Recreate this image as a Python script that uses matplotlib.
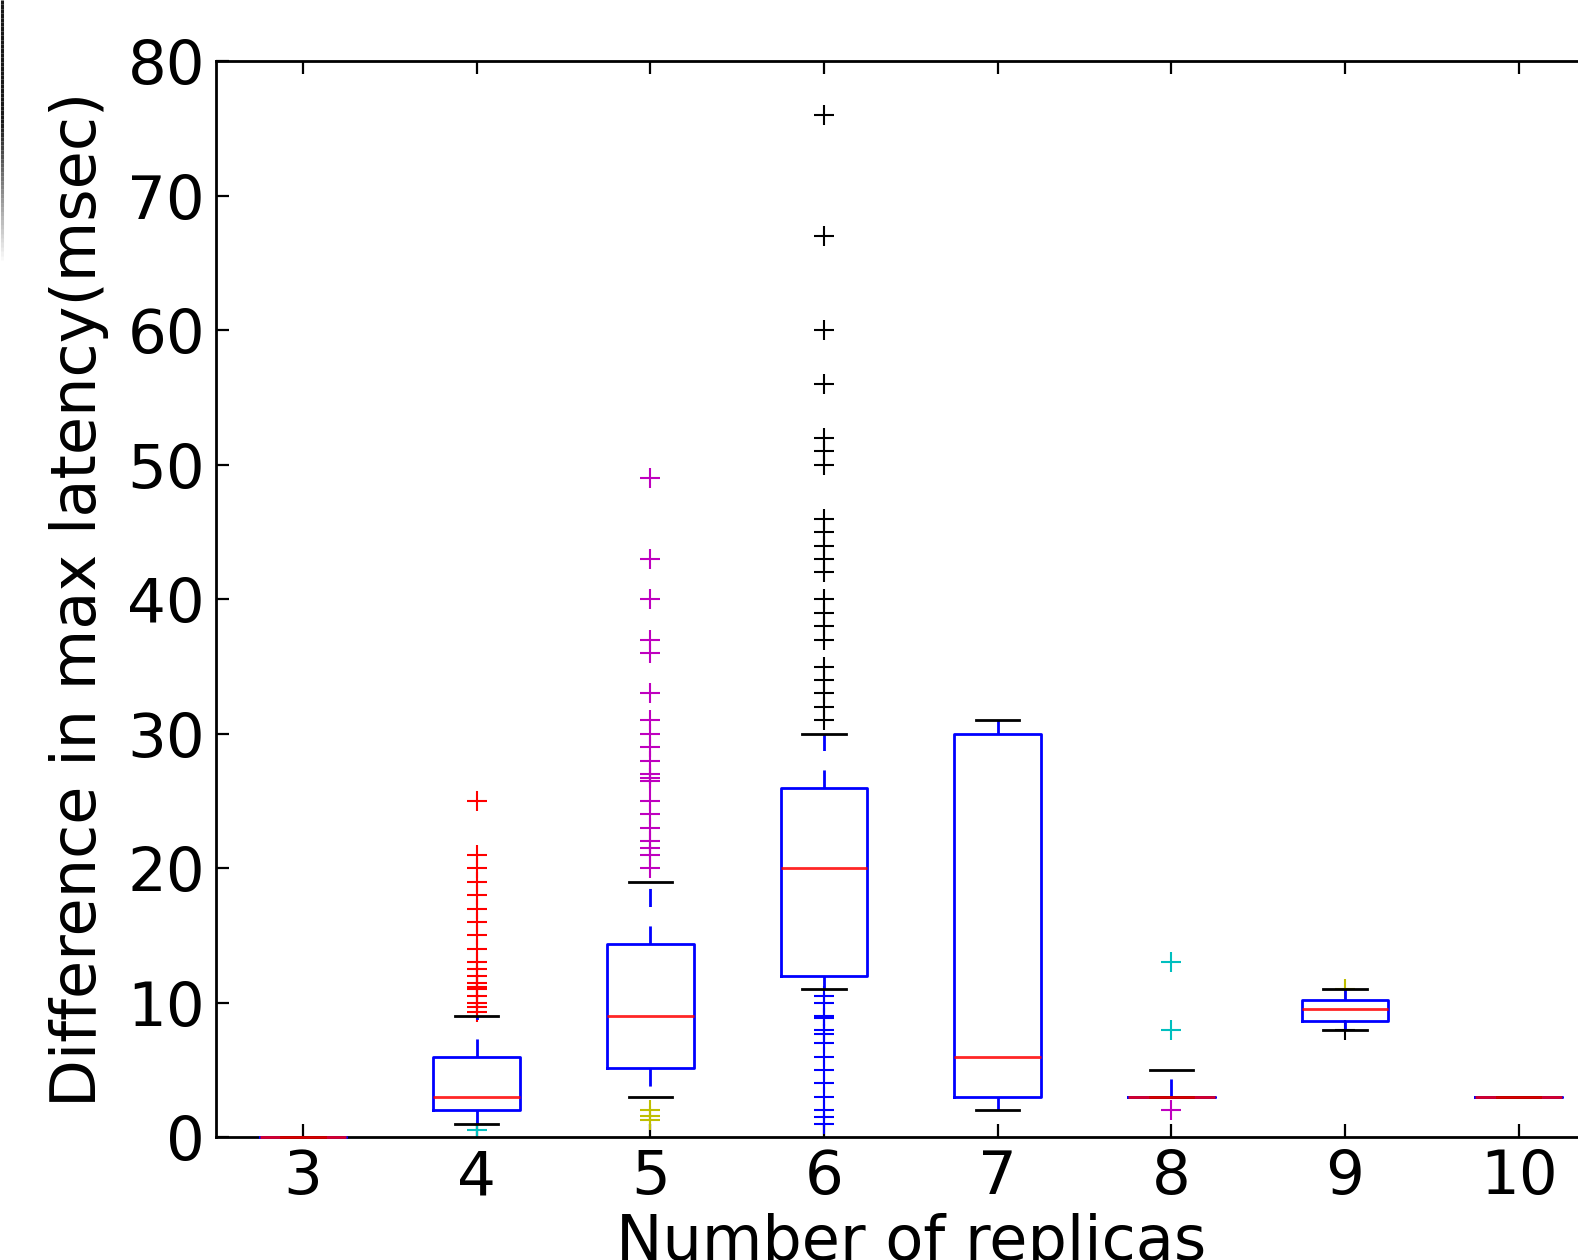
import matplotlib
matplotlib.use("Agg")
import matplotlib.pyplot as plt
import numpy as np
from matplotlib.collections import LineCollection

# ---------------- data ----------------
replicas = [3, 4, 5, 6, 7, 8, 9, 10]
q1 = [0, 2, 5.15, 12, 3, 3, 8.66, 3]
median = [0, 3, 9, 20, 6, 3, 9.5, 3]
q3 = [0, 6, 14.33, 26, 30, 3, 10.2, 3]
whisker_low = [0, 1, 3, 11, 2, 3, 8, 3]
whisker_high = [0, 9, 19, 30, 31, 5, 11, 3]

fliers_high = [
    [],
    [25, 21, 20, 19, 18, 17, 16, 15, 14, 13, 12.5, 12, 11.5, 11.2, 11, 10.5, 10, 9.7, 9.3],
    [49, 43, 40, 37, 36, 33, 31, 30, 29, 28, 27, 26.7, 26.5, 25, 24, 23, 22, 21.5, 21, 20],
    [76, 67, 60, 56, 52, 51, 50, 46, 45, 44, 43, 42, 40, 39, 38, 37, 35, 34, 33, 32, 31],
    [],
    [13, 8],
    [11],
    [],
]
fliers_low = [
    [],
    [0.5],
    [2.0, 1.6, 1.3],
    [10.5, 10, 9, 8.9, 8, 7.7, 7, 6, 5, 4, 3, 2, 1.5, 1],
    [],
    [2],
    [8],
    [],
]
y_ticks = [0, 10, 20, 30, 40, 50, 60, 70, 80]
x_label = "Number of replicas"
y_label = "Difference in max latency(msec)"

# colour cycle used by the classic flier symbols (hi, lo per box)
hi_colors = ['#0000ff', '#ff0000', '#bf00bf', '#000000', '#008000', '#00bfbf', '#bfbf00', '#0000ff']
lo_colors = ['#008000', '#00bfbf', '#bfbf00', '#0000ff', '#ff0000', '#bf00bf', '#000000', '#008000']

# ---------------- plot ----------------
plt.rcParams['font.family'] = ['DejaVu Sans']
plt.rcParams['lines.scale_dashes'] = False

W, H = 1578, 1260
fig = plt.figure(figsize=(W / 100, H / 100), dpi=100)
left_px, right_px, top_px, bottom_px = 216.2, 1605.4, 61.4, 1137.2
ax = fig.add_axes([left_px / W, 1 - bottom_px / H, (right_px - left_px) / W, (bottom_px - top_px) / H])

stats = []
for i in range(len(replicas)):
    stats.append(dict(med=median[i], q1=q1[i], q3=q3[i],
                      whislo=whisker_low[i], whishi=whisker_high[i], fliers=[]))

lw = 2.0
ax.bxp(stats, positions=replicas, widths=0.5, showfliers=False,
       boxprops=dict(color='#0000ff', linewidth=lw, clip_on=False, zorder=3),
       whiskerprops=dict(color='#0000ff', linewidth=lw, linestyle=(0, (13, 14)),
                         clip_on=False, zorder=3),
       capprops=dict(color='black', linewidth=lw, clip_on=False, zorder=3),
       medianprops=dict(color='#ff0000', linewidth=lw, clip_on=False, alpha=0.85, zorder=3.1),
       capwidths=0.25)

for i, x in enumerate(replicas):
    if fliers_high[i]:
        ax.plot([x] * len(fliers_high[i]), fliers_high[i], '+', color=hi_colors[i],
                markersize=15, markeredgewidth=1.5)
    if fliers_low[i]:
        ax.plot([x] * len(fliers_low[i]), fliers_low[i], '+', color=lo_colors[i],
                markersize=15, markeredgewidth=1.5)

ax.set_xlim(2.5, 10.5)
ax.set_ylim(0, 80)
ax.set_yticks(y_ticks)
ax.set_xticks(replicas)
ax.set_xticklabels([str(r) for r in replicas])
ax.tick_params(direction='in', length=9.6, width=1.6, labelsize=44,
               top=True, right=True, pad=8)
for s in ax.spines.values():
    s.set_linewidth(2.0)

ax.set_xlabel(x_label, fontsize=44.8, labelpad=4)
ax.set_ylabel(y_label, fontsize=44.8, labelpad=13)

# dark edge artifact at top-left of the screenshot
ys = np.linspace(0, 260, 60)
segs = [[(1.5 / W, 1 - ys[k] / H), (1.5 / W, 1 - ys[k + 1] / H)] for k in range(len(ys) - 1)]
alphas = []
for k in range(len(ys) - 1):
    yy = ys[k]
    if yy < 120:
        a = 0.9
    else:
        a = max(0.0, 0.9 * (1 - (yy - 120) / 140))
    alphas.append(a)
lc = LineCollection(segs, colors=[(0, 0, 0, a) for a in alphas], linewidths=2.2,
                    transform=fig.transFigure)
fig.add_artist(lc)

fig.savefig("out.png", dpi=100)
